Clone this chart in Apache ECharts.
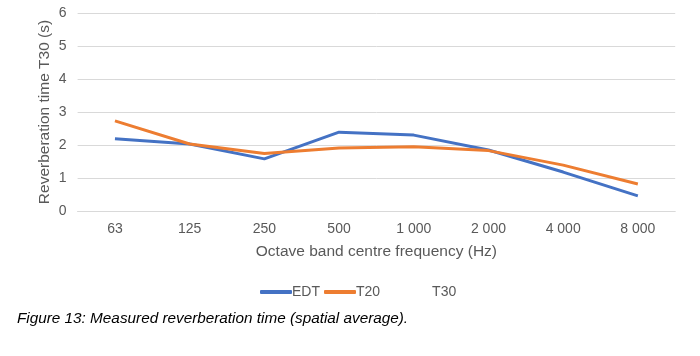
<!DOCTYPE html>
<html><head><meta charset="utf-8">
<script src="https://cdn.jsdelivr.net/npm/echarts@6/dist/echarts.min.js"></script>
<style>html,body{margin:0;padding:0;background:#fff;}#c{width:700px;height:356px;}</style>
</head><body><div id="c"></div>
<script>
const categories = ['63','125','250','500','1 000','2 000','4 000','8 000'];
const edt = [2.19, 2.03, 1.58, 2.39, 2.30, 1.85, 1.18, 0.46];
const t20 = [2.73, 2.03, 1.74, 1.91, 1.95, 1.83, 1.39, 0.82];
const t30 = [];
const yTicks = {min: 0, max: 6, interval: 1};
const font = 'Liberation Sans, Arial, sans-serif';
const chart = echarts.init(document.getElementById('c'));
chart.setOption({
  animation: false,
  backgroundColor: '#fff',
  grid: {left: 77.6, right: 24.8, top: 13, bottom: 145, containLabel: false},
  xAxis: {
    type: 'category', data: categories, boundaryGap: true,
    axisLine: {show: true, lineStyle: {color: '#d9d9d9'}},
    axisTick: {show: false},
    axisLabel: {color: '#595959', fontFamily: font, fontSize: 14, margin: 11},
    name: 'Octave band centre frequency (Hz)', nameLocation: 'middle', nameGap: 33,
    nameTextStyle: {color: '#595959', fontFamily: font, fontSize: 15.5}
  },
  yAxis: {
    type: 'value', min: yTicks.min, max: yTicks.max, interval: yTicks.interval,
    axisLine: {show: false}, axisTick: {show: false},
    splitLine: {lineStyle: {color: '#d9d9d9'}},
    axisLabel: {color: '#595959', fontFamily: font, fontSize: 14, margin: 11},
    name: 'Reverberation time T30 (s)', nameLocation: 'middle', nameGap: 25,
    nameMoveOverlap: false,
    nameTextStyle: {color: '#595959', fontFamily: font, fontSize: 15.5}
  },
  legend: {
    left: 255, top: 280, itemWidth: 32, itemHeight: 4, itemGap: 4,
    textStyle: {color: '#595959', fontFamily: font, fontSize: 14, padding: [0,0,0,-5]},
    data: [
      {name: 'EDT', icon: 'roundRect'},
      {name: 'T20', icon: 'roundRect'},
      {name: 'T30', icon: 'none', textStyle: {padding: [0,0,0,11]}}
    ]
  },
  series: [
    {name: 'EDT', type: 'line', data: edt, symbol: 'none', color: '#4472c4', lineStyle: {width: 3, color: '#4472c4'}},
    {name: 'T20', type: 'line', data: t20, symbol: 'none', color: '#ed7d31', lineStyle: {width: 3, color: '#ed7d31'}},
    {name: 'T30', type: 'line', data: t30, symbol: 'none', color: 'rgba(0,0,0,0)', lineStyle: {width: 3}}
  ],
  graphic: [{
    type: 'text', left: 17, top: 311,
    style: {text: 'Figure 13: Measured reverberation time (spatial average).', fill: '#000', font: 'italic 15.3px ' + font}
  }]
});
</script></body></html>
